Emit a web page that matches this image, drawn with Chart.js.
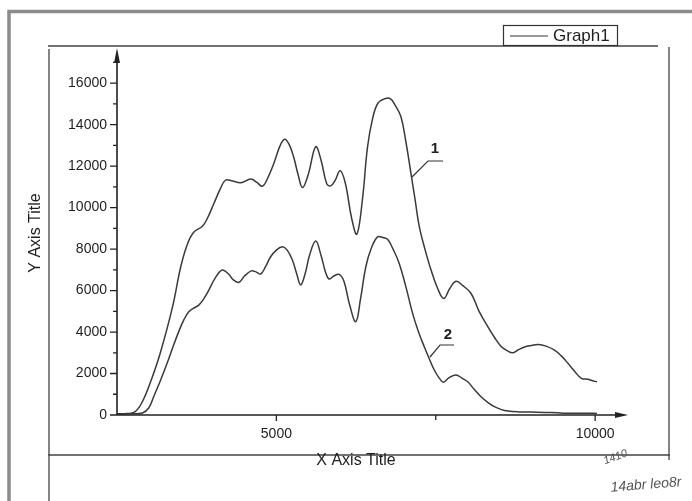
<!DOCTYPE html>
<html>
<head>
<meta charset="utf-8">
<script src="https://cdn.jsdelivr.net/npm/chart.js@4/dist/chart.umd.min.js"></script>
<style>
html,body{margin:0;padding:0;background:#fff;}
#wrap{width:692px;height:501px;position:relative;}
canvas{display:block;}
</style>
</head>
<body>
<div id="wrap"><canvas id="c" width="692" height="501"></canvas></div>
<script>
// ---- data ----
const curve1X = [2500,2650,2780,2900,3050,3180,3370,3500,3600,3700,3840,3920,4020,4120,4200,4300,4440,4600,4700,4780,4860,4960,5060,5130,5200,5270,5340,5410,5500,5617,5700,5790,5853,5920,6000,6080,6180,6262,6350,6430,6510,6590,6700,6786,6860,6954,7030,7111,7180,7242,7330,7425,7530,7625,7720,7818,7920,8054,8180,8316,8420,8526,8620,8709,8800,8892,9000,9110,9230,9363,9470,9574,9680,9783,9888,9950,10030];
const curve1Y = [60,70,150,650,1800,3000,5200,7150,8200,8800,9100,9500,10200,10900,11320,11300,11200,11380,11200,11030,11400,12130,13000,13300,13050,12450,11600,10970,11600,12930,12300,11150,11050,11300,11780,11200,9500,8720,10400,12930,14300,15020,15250,15260,14950,14380,13200,11650,10300,9080,8000,7000,6100,5620,6100,6450,6250,5860,5000,4260,3750,3300,3100,3000,3150,3280,3350,3400,3320,3130,2850,2490,2100,1770,1720,1660,1600];
const curve2X = [2500,2700,2900,3000,3075,3180,3286,3380,3468,3550,3626,3700,3783,3860,3940,4040,4151,4250,4330,4412,4500,4606,4680,4753,4830,4910,5000,5094,5170,5251,5320,5381,5450,5520,5617,5700,5770,5826,5900,5984,6060,6150,6246,6320,6403,6490,6587,6670,6744,6830,6927,7030,7137,7230,7320,7400,7477,7550,7619,7710,7818,7910,8002,8100,8211,8320,8420,8530,8631,8800,8990,9200,9400,9521,9700,9850,10030];
const curve2Y = [50,60,100,350,880,1650,2490,3300,4020,4600,4980,5150,5300,5600,6020,6600,6990,6800,6500,6400,6700,6950,6900,6800,7150,7630,7950,8110,7950,7470,6800,6270,6800,7700,8390,7700,6900,6560,6700,6780,6450,5300,4500,5600,7150,8050,8590,8560,8470,8000,7310,6200,4900,4000,3290,2700,2170,1800,1580,1800,1930,1780,1600,1250,880,600,400,260,190,150,140,120,110,90,80,90,70];
const yTickValues = [0,2000,4000,6000,8000,10000,12000,14000,16000];
const yMinorValues = [1000,3000,5000,7000,9000,11000,13000,15000,17000];
const xTickValues = [5000,10000];
const xMinorValues = [7500];
const legendLabel = 'Graph1';
const xTitle = 'X Axis Title';
const yTitle = 'Y Axis Title';
const curveLabels = ['1','2'];

const INK = '#3a3a3a';
const FONT = "'Liberation Sans', Arial, sans-serif";

function pts(xs, ys){ return xs.map((x,i)=>({x:x, y:ys[i]})); }

const decor = {
  id:'decor',
  beforeDraw(chart){
    const ctx = chart.ctx;
    ctx.save();
    ctx.fillStyle = '#ffffff';
    ctx.fillRect(0,0,chart.width,chart.height);
    // scan border
    ctx.strokeStyle = '#8c8c8c';
    ctx.lineWidth = 3.5;
    ctx.beginPath();
    ctx.moveTo(9, 501); ctx.lineTo(9, 11.5); ctx.lineTo(692, 11.5);
    ctx.stroke();
    // outer frame
    ctx.strokeStyle = '#444';
    ctx.lineWidth = 1.3;
    ctx.beginPath();
    ctx.moveTo(48, 46); ctx.lineTo(658, 46);
    ctx.moveTo(49, 49); ctx.lineTo(49, 501);
    ctx.moveTo(669, 47); ctx.lineTo(669, 460);
    ctx.moveTo(48, 455); ctx.lineTo(670, 455);
    ctx.stroke();
    ctx.restore();
  },
  afterDraw(chart){
    const ctx = chart.ctx;
    const xs = chart.scales.x, ys = chart.scales.y;
    const ax = xs.getPixelForValue(2500);
    const ay = ys.getPixelForValue(0);
    const yTop = ys.getPixelForValue(17600);
    const xEnd = xs.getPixelForValue(10500);
    ctx.save();
    ctx.strokeStyle = '#222';
    ctx.fillStyle = '#222';
    ctx.lineWidth = 1.6;
    // axes
    ctx.beginPath();
    ctx.moveTo(ax, ay); ctx.lineTo(ax, yTop + 8);
    ctx.moveTo(ax, ay); ctx.lineTo(xEnd - 8, ay);
    ctx.stroke();
    // arrowheads
    ctx.beginPath();
    ctx.moveTo(ax, yTop - 2); ctx.lineTo(ax - 3, yTop + 13); ctx.lineTo(ax + 3, yTop + 13); ctx.closePath();
    ctx.fill();
    ctx.beginPath();
    ctx.moveTo(xEnd + 1, ay); ctx.lineTo(xEnd - 12, ay - 3); ctx.lineTo(xEnd - 12, ay + 3); ctx.closePath();
    ctx.fill();
    // ticks
    ctx.lineWidth = 1.3;
    ctx.beginPath();
    yTickValues.forEach(v=>{ const p = ys.getPixelForValue(v); ctx.moveTo(ax-7, p); ctx.lineTo(ax, p); });
    yMinorValues.forEach(v=>{ const p = ys.getPixelForValue(v); ctx.moveTo(ax-4, p); ctx.lineTo(ax, p); });
    xTickValues.forEach(v=>{ const p = xs.getPixelForValue(v); ctx.moveTo(p, ay); ctx.lineTo(p, ay+6); });
    xMinorValues.forEach(v=>{ const p = xs.getPixelForValue(v); ctx.moveTo(p, ay); ctx.lineTo(p, ay+5); });
    ctx.stroke();

    // axis titles
    ctx.fillStyle = '#1e1e1e';
    ctx.font = '16px ' + FONT;
    ctx.textAlign = 'center';
    ctx.textBaseline = 'middle';
    ctx.fillText(xTitle, 356, 461);
    ctx.save();
    ctx.translate(36, 233);
    ctx.rotate(-Math.PI/2);
    ctx.fillText(yTitle, 0, 0);
    ctx.restore();

    // legend box
    ctx.strokeStyle = '#333';
    ctx.lineWidth = 1.2;
    ctx.fillStyle = '#fff';
    ctx.fillRect(503, 25, 114, 20);
    ctx.strokeRect(503.5, 25.5, 114, 20);
    ctx.beginPath();
    ctx.moveTo(510, 36); ctx.lineTo(548, 36);
    ctx.stroke();
    ctx.fillStyle = '#1e1e1e';
    ctx.font = '17px ' + FONT;
    ctx.textAlign = 'left';
    ctx.fillText(legendLabel, 553, 36);

    // curve labels with leaders
    ctx.font = 'bold 15px ' + FONT;
    ctx.textAlign = 'center';
    ctx.fillText(curveLabels[0], 435, 149);
    ctx.fillText(curveLabels[1], 448, 335);
    ctx.lineWidth = 1.2;
    ctx.beginPath();
    ctx.moveTo(443, 161); ctx.lineTo(428, 161); ctx.lineTo(412, 177);
    ctx.moveTo(454, 345); ctx.lineTo(440, 345); ctx.lineTo(430, 357);
    ctx.stroke();

    // handwriting
    ctx.fillStyle = '#555';
    ctx.font = 'italic 11px ' + FONT;
    ctx.save();
    ctx.translate(608, 460); ctx.rotate(-0.35);
    ctx.fillText('1410', 8, 0);
    ctx.restore();
    ctx.font = 'italic 14px ' + FONT;
    ctx.save();
    ctx.translate(646, 485); ctx.rotate(-0.08);
    ctx.fillText('14abr leo8r', 0, 0);
    ctx.restore();
    ctx.restore();
  }
};

const lineStyle = {
  borderColor: INK,
  borderWidth: 1.5,
  pointRadius: 0,
  fill: false,
  tension: 0.4
};

new Chart(document.getElementById('c'), {
  type: 'line',
  data: {
    datasets: [
      Object.assign({label: curveLabels[0], data: pts(curve1X, curve1Y)}, lineStyle),
      Object.assign({label: curveLabels[1], data: pts(curve2X, curve2Y)}, lineStyle)
    ]
  },
  options: {
    responsive: false,
    animation: false,
    devicePixelRatio: 1,
    layout: { padding: { top: 50, right: 65, left: 0, bottom: 0 } },
    plugins: { legend: { display: false }, tooltip: { enabled: false } },
    scales: {
      x: {
        type: 'linear', min: 2500, max: 10500,
        border: { display: false },
        grid: { display: false, drawTicks: false },
        afterBuildTicks(s){ s.ticks = xTickValues.map(v=>({value:v})); },
        afterFit(s){ s.height = 86; },
        ticks: { padding: 11, color: '#1e1e1e', font: { family: FONT, size: 14 }, maxRotation: 0, autoSkip: false,
                 callback: v => String(v) }
      },
      y: {
        type: 'linear', min: 0, max: 17600,
        border: { display: false },
        grid: { display: false, drawTicks: false },
        afterBuildTicks(s){ s.ticks = yTickValues.map(v=>({value:v})); },
        afterFit(s){ s.width = 117; },
        ticks: { padding: 10, color: '#1e1e1e', font: { family: FONT, size: 14 }, autoSkip: false,
                 callback: v => String(v) }
      }
    }
  },
  plugins: [decor]
});
</script>
</body>
</html>
